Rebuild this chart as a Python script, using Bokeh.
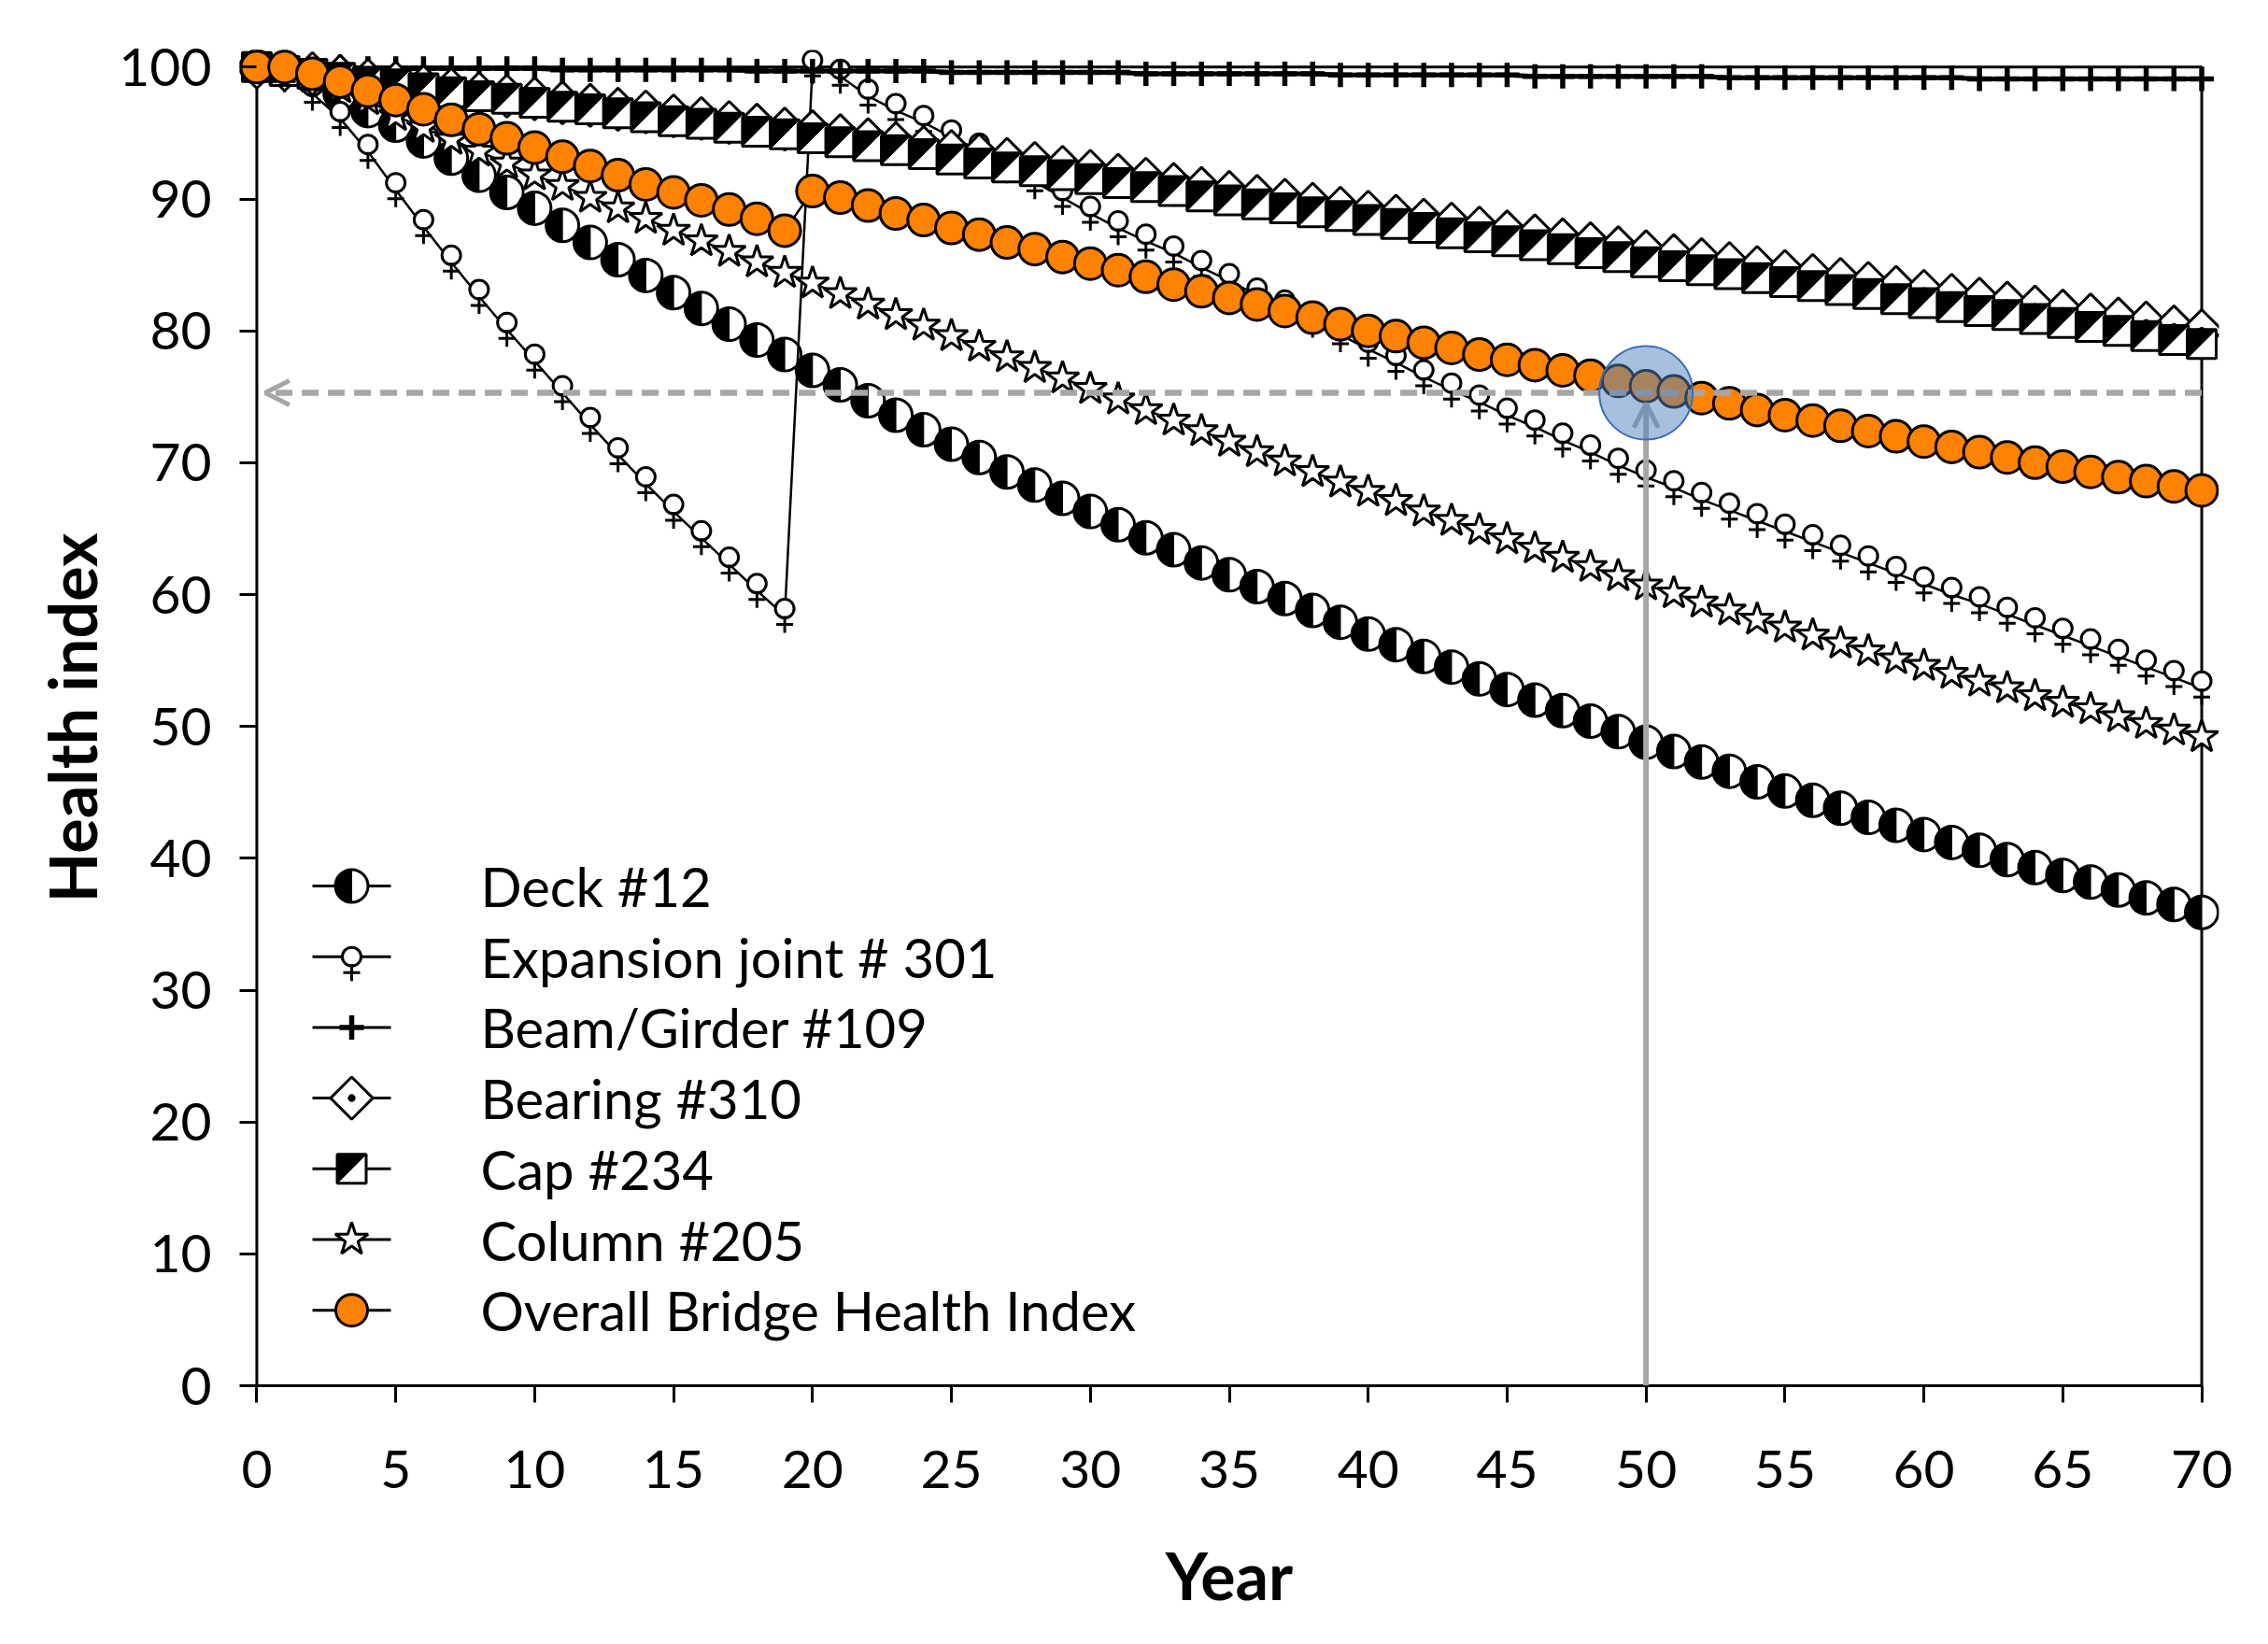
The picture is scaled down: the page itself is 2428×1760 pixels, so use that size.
import numpy as np
from bokeh.plotting import figure
from bokeh.models import Range1d, FixedTicker, Arrow, OpenHead, BoxAnnotation
from bokeh.core.properties import value
from bokeh.embed import file_html
from bokeh.resources import INLINE

# ---------------- data ----------------
YEARS = list(range(71))

DECK = [100.0, 99.8, 99.2, 98.0, 96.7, 95.6, 94.4, 93.1, 91.8, 90.5,
        89.3, 88.0, 86.7, 85.4, 84.2, 82.9, 81.7, 80.5, 79.3, 78.2,
        77.0, 75.9, 74.7, 73.6, 72.5, 71.4, 70.4, 69.3, 68.3, 67.3,
        66.3, 65.3, 64.3, 63.4, 62.4, 61.5, 60.6, 59.7, 58.8, 57.9,
        57.0, 56.2, 55.3, 54.5, 53.6, 52.8, 52.0, 51.2, 50.4, 49.6,
        48.8, 48.1, 47.3, 46.6, 45.8, 45.1, 44.4, 43.8, 43.1, 42.5,
        41.8, 41.2, 40.6, 39.9, 39.3, 38.7, 38.2, 37.6, 37.0, 36.5, 35.9]

EXPANSION = [100.0, 99.4, 98.0, 96.1, 93.6, 90.7, 87.9, 85.2, 82.6, 80.1,
             77.7, 75.3, 72.9, 70.6, 68.4, 66.3, 64.3, 62.3, 60.3, 58.4,
             100.0, 99.3, 97.8, 96.7, 95.8, 94.7, 93.7, 92.5, 91.3, 90.1,
             88.9, 87.8, 86.8, 85.9, 84.8, 83.8, 82.7, 81.8, 80.8, 79.7,
             78.6, 77.6, 76.5, 75.5, 74.6, 73.6, 72.7, 71.7, 70.8, 69.8,
             68.9, 68.1, 67.2, 66.4, 65.6, 64.8, 64.0, 63.2, 62.4, 61.6,
             60.8, 60.0, 59.3, 58.5, 57.7, 56.9, 56.1, 55.3, 54.5, 53.7, 52.9]

BEAM = [100.0, 100.0, 100.0, 100.0, 99.9, 99.9, 99.9, 99.9, 99.9, 99.9,
        99.9, 99.8, 99.8, 99.8, 99.8, 99.8, 99.8, 99.8, 99.7, 99.7,
        99.7, 99.7, 99.7, 99.7, 99.7, 99.6, 99.6, 99.6, 99.6, 99.6,
        99.6, 99.6, 99.5, 99.5, 99.5, 99.5, 99.5, 99.5, 99.5, 99.4,
        99.4, 99.4, 99.4, 99.4, 99.4, 99.4, 99.3, 99.3, 99.3, 99.3,
        99.3, 99.3, 99.3, 99.2, 99.2, 99.2, 99.2, 99.2, 99.2, 99.2,
        99.2, 99.2, 99.1, 99.1, 99.1, 99.1, 99.1, 99.1, 99.1, 99.1, 99.1]

BEARING = [100.0, 99.8, 99.5, 99.3, 99.0, 98.8, 98.5, 98.3, 98.0, 97.8,
           97.6, 97.3, 97.1, 96.8, 96.6, 96.3, 96.1, 95.8, 95.6, 95.3,
           95.1, 94.8, 94.5, 94.2, 93.9, 93.6, 93.3, 93.0, 92.7, 92.4,
           92.1, 91.8, 91.5, 91.1, 90.8, 90.5, 90.2, 89.9, 89.6, 89.3,
           89.0, 88.7, 88.4, 88.1, 87.8, 87.5, 87.2, 86.9, 86.6, 86.3,
           86.0, 85.7, 85.4, 85.1, 84.8, 84.5, 84.2, 83.9, 83.6, 83.3,
           83.0, 82.7, 82.4, 82.1, 81.8, 81.5, 81.2, 80.9, 80.6, 80.3, 80.0]

CAP = [100.0, 99.7, 99.5, 99.2, 98.9, 98.7, 98.4, 98.1, 97.8, 97.6,
       97.3, 97.0, 96.8, 96.5, 96.2, 95.9, 95.7, 95.4, 95.1, 94.9,
       94.6, 94.3, 94.0, 93.7, 93.4, 93.0, 92.7, 92.4, 92.1, 91.8,
       91.5, 91.2, 90.9, 90.6, 90.2, 89.9, 89.6, 89.3, 89.0, 88.7,
       88.4, 88.1, 87.8, 87.4, 87.1, 86.8, 86.5, 86.2, 85.9, 85.6,
       85.2, 84.9, 84.6, 84.3, 84.0, 83.7, 83.4, 83.1, 82.8, 82.4,
       82.1, 81.8, 81.5, 81.2, 80.9, 80.6, 80.3, 80.0, 79.6, 79.3, 79.0]

COLUMN = [100.0, 99.9, 99.2, 98.4, 97.5, 96.3, 95.4, 94.5, 93.6, 92.7,
          91.8, 91.0, 90.1, 89.3, 88.5, 87.6, 86.8, 86.0, 85.2, 84.4,
          83.6, 82.8, 82.0, 81.2, 80.4, 79.6, 78.8, 78.0, 77.2, 76.4,
          75.6, 74.8, 74.0, 73.2, 72.4, 71.6, 70.8, 70.1, 69.3, 68.5,
          67.8, 67.1, 66.3, 65.6, 64.9, 64.2, 63.5, 62.8, 62.1, 61.4,
          60.7, 60.1, 59.4, 58.8, 58.1, 57.5, 56.9, 56.3, 55.7, 55.1,
          54.6, 54.0, 53.4, 52.9, 52.3, 51.8, 51.3, 50.7, 50.2, 49.7, 49.2]

OVERALL = [100.0, 100.0, 99.5, 98.9, 98.2, 97.5, 96.8, 96.0, 95.3, 94.6,
           93.9, 93.2, 92.5, 91.8, 91.1, 90.5, 89.9, 89.2, 88.5, 87.6,
           90.6, 90.1, 89.5, 88.9, 88.4, 87.8, 87.3, 86.7, 86.2, 85.6,
           85.1, 84.6, 84.1, 83.5, 83.0, 82.5, 82.0, 81.5, 81.0, 80.5,
           80.0, 79.6, 79.1, 78.7, 78.2, 77.8, 77.4, 77.0, 76.6, 76.2,
           75.8, 75.4, 74.9, 74.5, 74.0, 73.6, 73.2, 72.8, 72.4, 72.0,
           71.6, 71.2, 70.8, 70.4, 70.0, 69.7, 69.3, 68.9, 68.6, 68.2, 67.9]

LABELS = ["Deck #12", "Expansion joint # 301", "Beam/Girder #109",
          "Bearing #310", "Cap #234", "Column #205",
          "Overall Bridge Health Index"]

X_TICKS = list(range(0, 75, 5))
Y_TICKS = list(range(0, 110, 10))
X_MAX, Y_MAX = 70, 100

TARGET_YEAR = 50
TARGET_INDEX = 75.3
ARROW_TIP_INDEX = 74.5
ARROW_TIP_YEAR = 0.3

# ---------------- layout ----------------
FIG_W, FIG_H = 2412, 1744
B_LEFT, B_RIGHT, B_TOP, B_BOTTOM = 256, 37, 53, 261
X0, X1 = -0.62, 70.62
Y0, Y1 = 0.0, 101.3
FRAME_W = FIG_W - B_LEFT - B_RIGHT
FRAME_H = FIG_H - B_TOP - B_BOTTOM
PXX = FRAME_W / (X1 - X0)
PXY = FRAME_H / (Y1 - Y0)
PAGE = 8


def year_at(px):
    return X0 + (px - PAGE - B_LEFT) / PXX


def val_at(py):
    return Y1 - (py - PAGE - B_TOP) / PXY


FONT = "Lato"
LW = 3
ORANGE = "#FF8200"
GRAY = "#A6A6A6"

p = figure(width=FIG_W, height=FIG_H, output_backend="svg", toolbar_location=None,
           x_range=Range1d(X0, X1), y_range=Range1d(Y0, Y1),
           min_border_left=B_LEFT, min_border_right=B_RIGHT,
           min_border_top=B_TOP, min_border_bottom=B_BOTTOM)
p.background_fill_color = "white"
p.border_fill_color = "white"
p.outline_line_color = None
p.grid.visible = False

# plot-area box (left axis line, top and right edges)
p.add_layout(BoxAnnotation(left=0, right=X_MAX, bottom=0, top=Y_MAX,
                           fill_color=None, fill_alpha=0, line_color="black",
                           line_alpha=1.0, line_width=3, level="underlay"))


def m_deck(xs, ys, size=35):
    p.scatter(xs, ys, marker="circle", size=size, fill_color="white",
              line_color="black", line_width=LW)
    p.wedge(xs, ys, radius=size / 2, radius_units="screen",
            start_angle=np.pi / 2, end_angle=3 * np.pi / 2,
            fill_color="black", line_color="black", line_width=1)


def m_expansion(xs, ys, up_px=7.5, down_px=9.5):
    ys = np.asarray(ys, dtype=float)
    p.scatter(xs, ys + up_px / PXY, marker="circle", size=20, fill_color="white",
              line_color="black", line_width=LW)
    p.scatter(xs, ys - down_px / PXY, marker="cross", size=18,
              line_color="black", line_width=LW)


def m_beam(xs, ys):
    p.scatter(xs, ys, marker="cross", size=26, line_color="black", line_width=5.5)


def m_bearing(xs, ys):
    p.scatter(xs, ys, marker="square_dot", angle=np.pi / 4, size=32,
              fill_color="white", line_color="black", line_width=LW)


def m_cap(xs, ys, size=31):
    p.scatter(xs, ys, marker="square", size=size, fill_color="white",
              line_color="black", line_width=LW)
    hx, hy = (size / 2) / PXX, (size / 2) / PXY
    txs = [[x - hx, x + hx, x - hx] for x in xs]
    tys = [[y + hy, y + hy, y - hy] for y in ys]
    p.patches(txs, tys, fill_color="black", line_color="black", line_width=1)


def m_column(xs, ys):
    p.scatter(xs, ys, marker="star", size=37, fill_color="white",
              line_color="black", line_width=LW)


def m_overall(xs, ys):
    p.scatter(xs, ys, marker="circle", size=34, fill_color=ORANGE,
              line_color="black", line_width=LW)


SERIES = [(DECK, m_deck, 2.5), (EXPANSION, m_expansion, 2.5), (BEAM, m_beam, 5),
          (BEARING, m_bearing, 2.5), (CAP, m_cap, 2.5), (COLUMN, m_column, 2.5),
          (OVERALL, m_overall, 2.5)]

for vals, marker_fn, lw in SERIES:
    p.line(YEARS, vals, line_color="black", line_width=lw)
    marker_fn(YEARS, vals)

# ---------------- legend (drawn inside plot area) ----------------
LEG_ROW0_PX, LEG_STEP_PX = 956, 75.7
LEG_LINE_PX = (342, 426)
LEG_MARK_PX = 384
LEG_TEXT_PX = 522
leg_y = [val_at(LEG_ROW0_PX + k * LEG_STEP_PX) for k in range(len(LABELS))]
lx0, lx1, lxm = year_at(LEG_LINE_PX[0]), year_at(LEG_LINE_PX[1]), year_at(LEG_MARK_PX)
for k, (vals, marker_fn, lw) in enumerate(SERIES):
    p.line([lx0, lx1], [leg_y[k], leg_y[k]], line_color="black", line_width=3)
    if marker_fn is m_expansion:
        m_expansion([lxm], [leg_y[k]], up_px=0, down_px=17)
    else:
        marker_fn([lxm], [leg_y[k]])
p.text(x=[year_at(LEG_TEXT_PX)] * len(LABELS), y=leg_y, text=LABELS,
       text_font=value(FONT), text_font_size="58px", text_color="black",
       text_baseline="middle", text_align="left")

# ---------------- annotation ----------------
p.add_layout(Arrow(end=OpenHead(size=26, line_color=GRAY, line_width=5),
                   x_start=X_MAX, y_start=TARGET_INDEX,
                   x_end=ARROW_TIP_YEAR, y_end=TARGET_INDEX,
                   line_color=GRAY, line_width=6.5, line_dash="18 10"))
p.add_layout(Arrow(end=OpenHead(size=26, line_color=GRAY, line_width=5),
                   x_start=TARGET_YEAR, y_start=0,
                   x_end=TARGET_YEAR, y_end=ARROW_TIP_INDEX,
                   line_color=GRAY, line_width=6))
p.scatter([TARGET_YEAR], [TARGET_INDEX], marker="circle", size=100,
          fill_color="#4F81BD", fill_alpha=0.5, line_color="#3C6EB4",
          line_width=2, level="overlay")

# ---------------- axes ----------------
p.xaxis.ticker = FixedTicker(ticks=X_TICKS)
p.yaxis.ticker = FixedTicker(ticks=Y_TICKS)
p.xaxis.bounds = (0, X_MAX)
p.yaxis.bounds = (0, Y_MAX)
for ax in (p.xaxis, p.yaxis):
    ax.axis_line_color = "black"
    ax.axis_line_width = 3
    ax.major_tick_line_color = "black"
    ax.major_tick_line_width = 3
    ax.minor_tick_line_color = None
    ax.major_label_text_font = FONT
    ax.major_label_text_font_size = "57px"
    ax.major_label_text_color = "black"
    ax.axis_label_text_font = FONT
    ax.axis_label_text_font_size = "70px"
    ax.axis_label_text_font_style = "bold"
    ax.axis_label_text_color = "black"
# x axis sits on the frame bottom (value 0)
p.xaxis.major_tick_in = 0
p.xaxis.major_tick_out = 18
# y axis sits on the frame edge just left of year 0; its ticks reach the year-0 line
p.yaxis.axis_line_color = None
p.yaxis.major_tick_in = int(round(-X0 * PXX))
p.yaxis.major_tick_out = 0

p.xaxis.axis_label = "Year"
p.yaxis.axis_label = "Health index"
p.xaxis.major_label_standoff = 51
p.yaxis.major_label_standoff = 30
p.xaxis.axis_label_standoff = 48
p.yaxis.axis_label_standoff = 5

open("out.html", "w").write(file_html(p, INLINE))
